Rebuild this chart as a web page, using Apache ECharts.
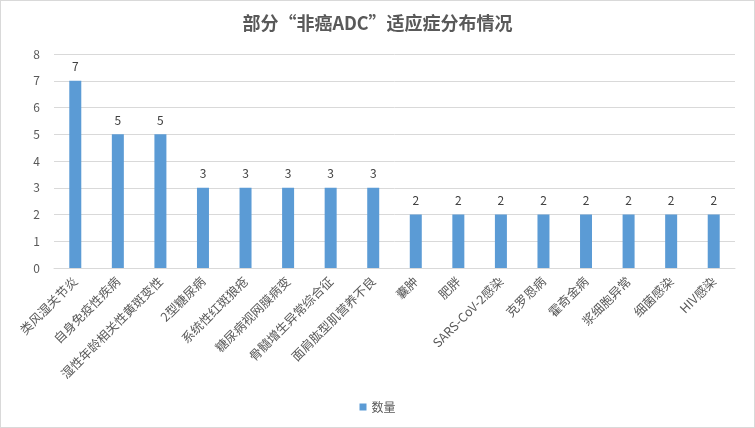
<!DOCTYPE html>
<html>
<head>
<meta charset="utf-8">
<script src="https://cdn.jsdelivr.net/npm/echarts@6/dist/echarts.min.js"></script>
<style>
  html, body { margin: 0; padding: 0; background: #fff; }
  #main { width: 753px; height: 426px; border: 1px solid #d9d9d9; }
</style>
</head>
<body>
<div id="main"></div>
<script>
var categories = ['类风湿关节炎', '自身免疫性疾病', '湿性年龄相关性黄斑变性', '2型糖尿病', '系统性红斑狼疮',
  '糖尿病视网膜病变', '骨髓增生异常综合征', '面肩肱型肌营养不良', '囊肿', '肥胖', 'SARS-CoV-2感染',
  '克罗恩病', '霍奇金病', '浆细胞异常', '细菌感染', 'HIV感染'];
var counts = [7, 5, 5, 3, 3, 3, 3, 3, 2, 2, 2, 2, 2, 2, 2, 2];
var seriesName = '数量';
var font = '"Noto Sans CJK SC", "Noto Sans", sans-serif';

var chart = echarts.init(document.getElementById('main'));
var option = {
  backgroundColor: '#fff',
  animation: false,
  textStyle: { fontFamily: font },
  title: {
    text: '部分“非癌ADC”适应症分布情况',
    left: 'center',
    top: 8,
    textStyle: { color: '#595959', fontSize: 18, fontWeight: 'bold', fontFamily: font }
  },
  legend: {
    bottom: 9,
    left: 'center',
    itemWidth: 7,
    itemHeight: 7,
    icon: 'rect',
    textStyle: { color: '#595959', fontSize: 12 },
    data: [seriesName]
  },
  grid: { left: 53, right: 19, top: 53, bottom: 159 },
  xAxis: {
    type: 'category',
    data: categories,
    axisLine: { lineStyle: { color: '#d9d9d9' } },
    axisTick: { show: false },
    axisLabel: { rotate: 45, interval: 0, color: '#595959', fontSize: 12.5, margin: 11 }
  },
  yAxis: {
    type: 'value',
    min: 0,
    max: 8,
    interval: 1,
    axisLine: { show: false },
    axisTick: { show: false },
    splitLine: { lineStyle: { color: '#d9d9d9' } },
    axisLabel: { color: '#595959', fontSize: 12, margin: 14 }
  },
  series: [{
    name: seriesName,
    type: 'bar',
    data: counts,
    barWidth: 12,
    itemStyle: { color: '#5b9bd5' },
    label: { show: true, position: 'top', color: '#404040', fontSize: 12, distance: 8 }
  }]
};
chart.setOption(option);
</script>
</body>
</html>
